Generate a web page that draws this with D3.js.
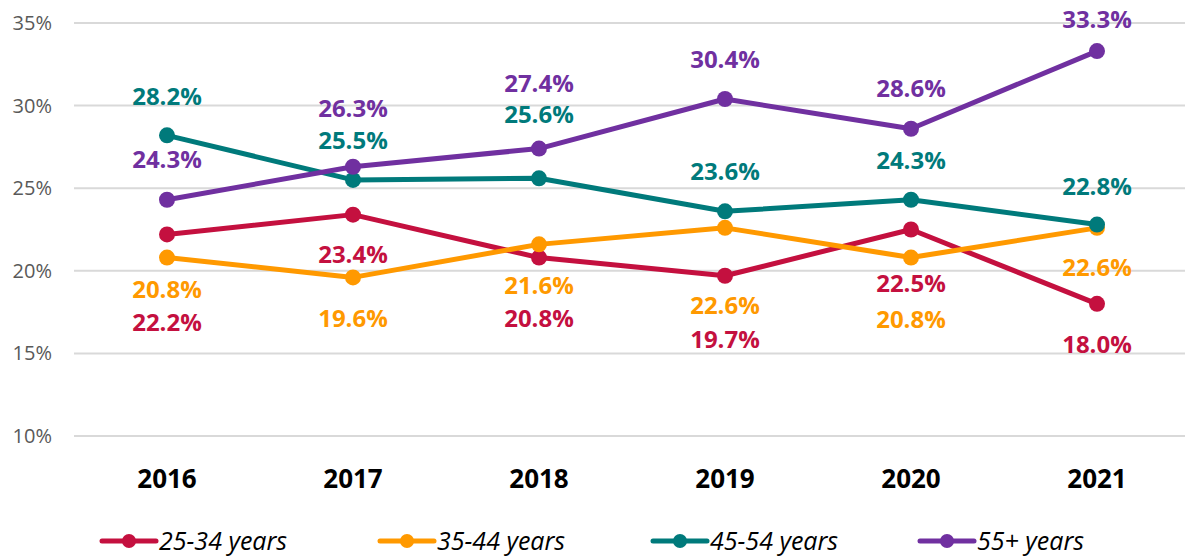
<!DOCTYPE html>
<html>
<head>
<meta charset="utf-8">
<script src="https://cdn.jsdelivr.net/npm/d3@7"></script>
<style>
  html, body { margin: 0; padding: 0; background: #fff; }
  svg { display: block; font-family: "Open Sans", "Noto Sans", sans-serif; }
</style>
</head>
<body>
<svg id="chart" width="1185" height="558"></svg>
<script>
// ---- data ----
const years = ["2016", "2017", "2018", "2019", "2020", "2021"];
const seriesNames = ["25-34 years", "35-44 years", "45-54 years", "55+ years"];
const age25to34 = [22.2, 23.4, 20.8, 19.7, 22.5, 18.0];
const age35to44 = [20.8, 19.6, 21.6, 22.6, 20.8, 22.6];
const age45to54 = [28.2, 25.5, 25.6, 23.6, 24.3, 22.8];
const age55plus = [24.3, 26.3, 27.4, 30.4, 28.6, 33.3];
const yTicks = [10, 15, 20, 25, 30, 35];

// ---- layout / style ----
const colors = ["#C4103F", "#FF9900", "#007A7B", "#7030A0"];
const labelDy = [
  [88, 40, 61, 64, 54, 41],
  [32, 41, 41, 78, 62, 40],
  [-39, -39, -64, -40, -39, -38],
  [-40, -58, -65, -39, -40, -31]
];
const legendX = [102, 380, 653, 920];

const svg = d3.select("#chart");
const x = d3.scalePoint().domain(years).range([167, 1097]);
const y = d3.scaleLinear().domain([10, 35]).range([436, 23]);

// grid
svg.append("g").selectAll("line").data(yTicks).join("line")
  .attr("x1", 74).attr("x2", 1185)
  .attr("y1", d => y(d)).attr("y2", d => y(d))
  .attr("stroke", "#d9d9d9").attr("stroke-width", 2);

// y axis labels
svg.append("g").selectAll("text").data(yTicks).join("text")
  .attr("x", 52).attr("y", d => y(d)).attr("dy", "0.35em")
  .attr("text-anchor", "end").attr("font-size", 20).attr("fill", "#595959")
  .text(d => d + "%");

// x axis labels
svg.append("g").selectAll("text").data(years).join("text")
  .attr("x", d => x(d)).attr("y", 479).attr("dy", "0.35em")
  .attr("text-anchor", "middle").attr("font-size", 26).attr("font-weight", "bold").attr("fill", "#000")
  .text(d => d);

const allSeries = [age25to34, age35to44, age45to54, age55plus].map((vals, i) => ({
  name: seriesNames[i], color: colors[i], vals, dys: labelDy[i]
}));

const line = d3.line().x((d, i) => x(years[i])).y(d => y(d));

const g = svg.append("g");
allSeries.forEach(s => {
  g.append("path").datum(s.vals)
    .attr("d", line).attr("fill", "none")
    .attr("stroke", s.color).attr("stroke-width", 5).attr("stroke-linejoin", "round");
  g.selectAll(null).data(s.vals).join("circle")
    .attr("cx", (d, i) => x(years[i])).attr("cy", d => y(d))
    .attr("r", 8).attr("fill", s.color);
});

// labels
allSeries.forEach(s => {
  svg.append("g").selectAll("text").data(s.vals).join("text")
    .attr("x", (d, i) => x(years[i]))
    .attr("y", (d, i) => y(d) + s.dys[i]).attr("dy", "0.35em")
    .attr("text-anchor", "middle").attr("font-size", 24).attr("font-weight", "bold")
    .attr("fill", s.color)
    .text(d => d.toFixed(1) + "%");
});

// legend
const leg = svg.append("g");
allSeries.forEach((s, i) => {
  const lx = legendX[i];
  const item = leg.append("g").attr("transform", `translate(${lx},541)`);
  item.append("line").attr("x1", 0).attr("x2", 54).attr("y1", 0).attr("y2", 0)
    .attr("stroke", s.color).attr("stroke-width", 5).attr("stroke-linecap", "round");
  item.append("circle").attr("cx", 27).attr("cy", 0).attr("r", 7).attr("fill", s.color);
  item.append("text").attr("x", 57).attr("y", 0).attr("dy", "0.35em")
    .attr("font-size", 25).attr("font-style", "italic").attr("fill", "#000")
    .text(s.name);
});
</script>
</body>
</html>
